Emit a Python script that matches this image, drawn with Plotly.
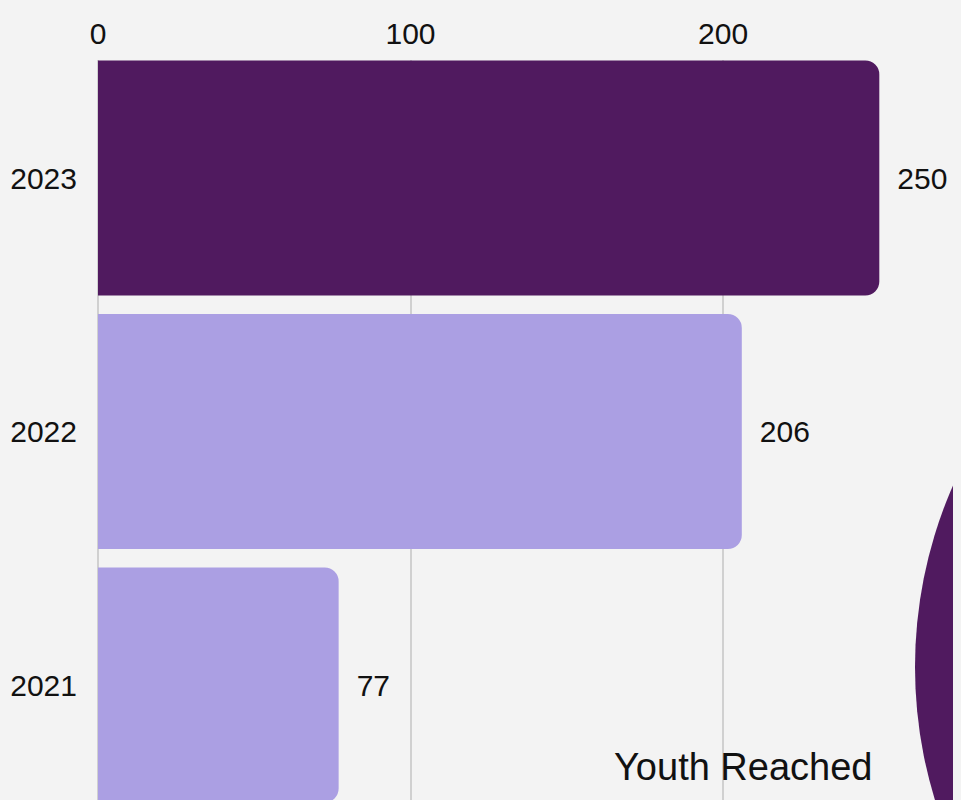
import plotly.graph_objects as go

years = ["2021", "2022", "2023"]
youth = [77, 206, 250]
bar_colors = ["#ab9fe3", "#ab9fe3", "#501a5f"]
x_ticks = [0, 100, 200]
title_text = "Youth Reached"

FONT = "Liberation Sans, Arial, sans-serif"
BG = "#f3f3f3"

fig = go.Figure()
fig.add_trace(go.Bar(
    y=years,
    x=youth,
    orientation="h",
    marker=dict(color=bar_colors, line=dict(width=0)),
    texttemplate="\u2002%{x}",
    textposition="outside",
    textfont=dict(size=30, color="#111111", family=FONT),
    cliponaxis=False,
    hoverinfo="skip",
))

# plot area in page px: x 98..969, y 60..808 (figure is offset 8px by page margin)
fig.add_shape(
    type="circle", xref="paper", yref="paper",
    x0=(915 - 98) / 871, x1=(1821 - 98) / 871,
    y0=(808 - 1120) / 748, y1=(808 - 214) / 748,
    fillcolor="#501a5f", line=dict(width=0), layer="above",
)

fig.add_annotation(
    text=title_text, xref="paper", yref="paper",
    x=(875 - 98) / 871, y=(808 - 767) / 748, xanchor="right", yanchor="middle",
    showarrow=False, font=dict(size=38, color="#111111", family=FONT),
)

fig.update_layout(
    width=961, height=800,
    margin=dict(l=90, r=0, t=52, b=0),
    paper_bgcolor=BG,
    plot_bgcolor=BG,
    showlegend=False,
    bargap=0.073,
    barcornerradius=14,
    font=dict(family=FONT, size=30, color="#111111"),
    xaxis=dict(
        side="top",
        range=[0, 278.7],
        tickvals=x_ticks,
        showgrid=True, gridcolor="#d0d0d0", gridwidth=2,
        zeroline=True, zerolinecolor="#d0d0d0", zerolinewidth=2,
        showline=False,
        tickfont=dict(size=30, family=FONT, color="#111111"),
        ticks="", ticklabelstandoff=9,
    ),
    yaxis=dict(
        type="category",
        categoryarray=years,
        categoryorder="array",
        range=[-0.4852, 2.4655],
        showgrid=False, zeroline=False, showline=False,
        tickfont=dict(size=30, family=FONT, color="#111111"),
        ticks="", ticklabelstandoff=20,
    ),
)

fig.write_html("out.html", post_script="document.body.style.backgroundColor='%s';" % BG)
